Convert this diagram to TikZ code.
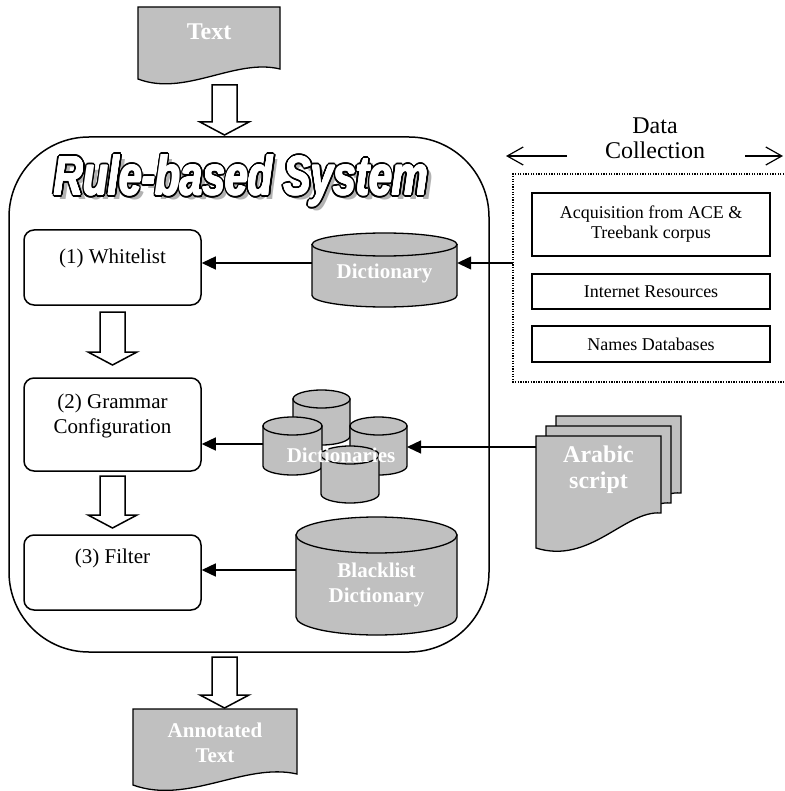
\documentclass[tikz,border=0pt]{standalone}
\usepackage{graphicx}
\usepackage{fontspec}
\setmainfont{Liberation Serif}
\newfontfamily\titlefont{Liberation Sans}
\usetikzlibrary{arrows.meta,calc}
\definecolor{docgray}{HTML}{C0C0C0}
\newcommand\ttl{\resizebox{374pt}{40pt}{\titlefont\bfseries\itshape Rule-based System}}
\newcommand\mycyl[5]{%
  \pgfmathsetmacro\cylrx{(#2-#1)/2}\pgfmathsetmacro\cylcx{(#1+#2)/2}%
  \filldraw[shapest] (#1,#3) -- (#1,#4) arc[start angle=180,end angle=0,x radius=\cylrx,y radius=#5] -- (#2,#3) -- cycle;
  \filldraw[shapest] (\cylcx,#3) ellipse[x radius=\cylrx, y radius=#5];
}
\newcommand\barrow[4]{%
  \filldraw[barst] (#1-12.5,#2) -- (#1+12.5,#2) -- (#1+12.5,#3) -- (#1+24.5,#3) -- (#1,#4) -- (#1-24.5,#3) -- (#1-12.5,#3) -- cycle;
}
\begin{document}
\begin{tikzpicture}[x=1pt,y=-1pt,
  stepbox/.style={draw, line width=1.5pt, rounded corners=10pt, inner sep=0pt, minimum width=177pt},
  lbl/.style={font=\fontsize{21}{25}\selectfont, align=center, inner sep=0pt},
  wlbl/.style={text=white, font=\bfseries\fontsize{21}{25}\selectfont, align=center, inner sep=0pt},
  wlbig/.style={text=white, font=\bfseries\fontsize{24}{26}\selectfont, align=center, inner sep=0pt},
  shapest/.style={fill=docgray, draw=black, line width=1.3pt},
  barst/.style={fill=white, draw=black, line width=1.5pt, line join=miter},
  arr/.style={line width=1.3pt, -{Triangle[length=14pt,width=13pt]}},
  barb/.style={line width=1.2pt, -{Straight Barb[length=16pt,width=18pt]}},
  dcbox/.style={draw, line width=1.4pt, minimum width=238pt, inner sep=0pt, font=\fontsize{18}{20}\selectfont, align=center},
  ttlst/.style={anchor=base west, inner sep=0pt}
]
\useasboundingbox (0,0) rectangle (784,791);

% main system box
\node[draw, line width=1.5pt, rounded corners=80pt, minimum width=480pt, minimum height=515pt, inner sep=0pt] (sys) at (249,394.5) {};

% title: shadow, black outline, white face
\node[ttlst, text=gray!60] (tshadow) at (59,200) {\ttl};
\foreach \a [count=\i] in {0,22.5,...,337.5} {
  \node[ttlst, text=black] (to\i) at ($(54,195)+(\a:2.3)$) {\ttl};
}
\foreach \a [count=\i] in {0,45,...,315} {
  \node[ttlst, text=white] (tw\i) at ($(54,195)+(\a:0.6)$) {\ttl};
}
\node[ttlst, text=white] (title) at (54,195) {\ttl};

% input document
\filldraw[shapest] (138,7) -- (280,7) -- (280,69) .. controls (235,58) and (185,97) .. (138,79) -- cycle;
\node[wlbig] (txt) at (209,32) {Text};

% output document
\filldraw[shapest] (133,709) -- (297,709) -- (297,774) .. controls (245,762) and (188,805) .. (133,785) -- cycle;
\node[wlbl] (ann) at (215,742.5) {Annotated\\Text};

% block arrows
\barrow{224.5}{85}{122}{135}
\barrow{112.5}{312}{352}{365}
\barrow{112.5}{476}{515}{528}
\barrow{224.5}{657}{695}{708}

% steps
\node[stepbox, minimum height=75pt] (wl) at (112.5,267.5) {};
\node[lbl] (wlt) at (112.5,258) {(1) Whitelist};
\node[stepbox, minimum height=93pt] (gc) at (112.5,424.5) {};
\node[lbl] (gct) at (112.5,415.5) {(2) Grammar\\Configuration};
\node[stepbox, minimum height=75pt] (fl) at (112.5,572.5) {};
\node[lbl] (flt) at (112.5,558) {(3) Filter};

% dictionary
\mycyl{312}{457}{244.5}{295.5}{11.5}
\node[wlbl, minimum width=145pt] (dict) at (384.5,273) {Dictionary};

% dictionaries cluster
\mycyl{293}{350}{399}{436}{9}
\mycyl{263}{322}{426}{466}{9}
\mycyl{350}{407}{426}{466}{9}
\mycyl{321}{379}{455}{494}{9}
\node[wlbl] (dicts) at (341,455) {Dictionaries};
\coordinate (dsl) at (263,444);
\coordinate (dsr) at (407,447);

% blacklist
\mycyl{296}{457}{535}{617}{18}
\node[wlbl, minimum width=161pt] (black) at (376.5,584.5) {Blacklist\\Dictionary};

% Arabic script documents
\foreach \s/\n in {20/back,10/mid,0/front} {
  \begin{scope}[shift={(\s,-\s)}]
    \filldraw[shapest] (536,436) -- (661,436) -- (661,513) .. controls (625,510) and (590,565) .. (536,548) -- cycle;
  \end{scope}
}
\node[wlbig, minimum width=125pt] (arab) at (598.5,470) {Arabic\\script};

% data collection
\node[font=\fontsize{24}{25}\selectfont, align=center, inner sep=0pt] (dc) at (655,138) {Data\\Collection};
\coordinate (dcla) at (567,156);
\coordinate (dclb) at (506,156);
\coordinate (dcra) at (745,156);
\coordinate (dcrb) at (783,156);
\draw[barb] (dcla) -- (dclb);
\draw[barb] (dcra) -- (dcrb);
\draw[line width=1.3pt, dash pattern=on 1.3pt off 1.3pt] (784,174) -- (513,174) -- (513,382) -- (784,382);
\coordinate (dcl) at (513,263);
\node[dcbox, minimum height=63pt] (ace) at (651,224.5) {Acquisition from ACE \&\\Treebank corpus};
\node[dcbox, minimum height=35pt] (inet) at (651,291.5) {Internet Resources};
\node[dcbox, minimum height=36pt] (names) at (651,344) {Names Databases};

% connectors
\draw[arr] (dcl) -- (dict.east |- dcl);
\draw[arr] (dict.west |- dcl) -- (wl.east |- dcl);
\draw[arr] (arab.west |- dsr) -- (dsr);
\draw[arr] (dsl) -- (gc.east |- dsl);
\draw[arr] (black.west |- 0,570) -- (fl.east |- 0,570);
\end{tikzpicture}
\end{document}
